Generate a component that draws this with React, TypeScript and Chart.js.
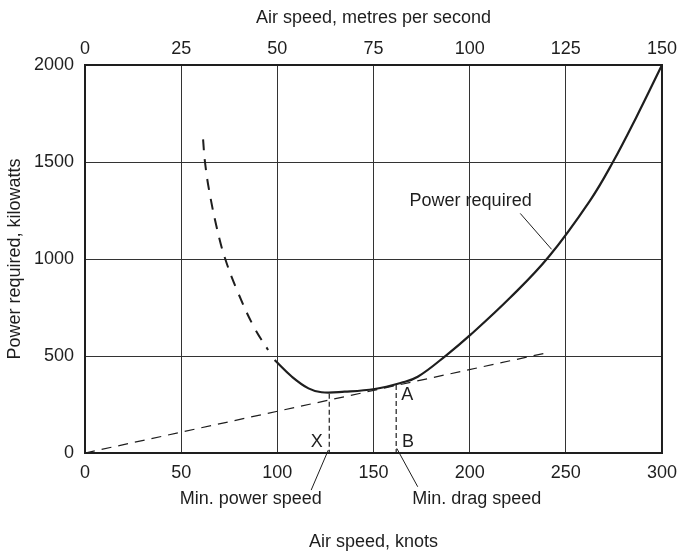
import React, { useEffect, useRef } from "react";
import { Chart, registerables } from "chart.js";

Chart.register(...registerables);

// Power required curve (solid part), air speed in knots vs kilowatts
const powerKnots = [98.6, 107.6, 116.2, 123, 135, 150.6, 164.4, 173, 188, 200.5, 221, 241, 262.5, 274.5, 286.6, 300];
const powerKw = [479, 393, 333, 313, 316, 330, 362, 393, 505, 610, 800, 1010, 1300, 1500, 1730, 2000];

// Power required curve (dashed, low-speed part)
const lowSpeedKnots = [61.4, 62.3, 64.5, 68.8, 72.8, 79, 87.8, 95.2];
const lowSpeedKw = [1617, 1507, 1356, 1149, 1004, 840, 650, 531];

// Tangent from origin
const tangentKnots = [0, 240.4];
const tangentKw = [0, 517];

// Min power speed (X) and min drag speed (B) verticals
const minPowerKnots = [127, 127];
const minPowerKw = [305, 0];
const minDragKnots = [161.8, 161.8];
const minDragKw = [350, 0];

// Leader lines
const powerLeaderKnots = [226.3, 242.6];
const powerLeaderKw = [1235, 1050];
const minPowerLeaderKnots = [126.5, 117.6];
const minPowerLeaderKw = [15, -191];
const minDragLeaderKnots = [162.1, 173];
const minDragLeaderKw = [24, -174];

// Text annotations (data coordinates)
const noteLabels = ["Power required", "A", "B", "X", "Min. power speed", "Min. drag speed"];
const noteKnots = [200.5, 167.5, 168, 120.5, 86.2, 203.7];
const noteKw = [1300, 299, 58, 58, -237, -237];

// Axes
const knotsMin = 0;
const knotsMax = 300;
const knotsStep = 50;
const msMin = 0;
const msMax = 150;
const msStep = 25;
const kwMin = 0;
const kwMax = 2000;
const kwStep = 500;

const FONT = "'Liberation Sans', Arial, Helvetica, sans-serif";
const INK = "#1e1e1e";

const pts = (xs: number[], ys: number[]) => xs.map((x, i) => ({ x, y: ys[i] }));

export default function App() {
  const ref = useRef<HTMLCanvasElement | null>(null);

  useEffect(() => {
    document.body.style.margin = "0";
    const canvas = ref.current;
    if (!canvas) return;

    const framePlugin = {
      id: "frame",
      beforeDatasetsDraw(chart: any) {
        const { ctx, chartArea } = chart;
        ctx.save();
        ctx.strokeStyle = INK;
        ctx.lineWidth = 2;
        ctx.strokeRect(chartArea.left, chartArea.top, chartArea.right - chartArea.left, chartArea.bottom - chartArea.top);
        ctx.restore();
      },
    };

    const notesPlugin = {
      id: "notes",
      afterDatasetsDraw(chart: any) {
        const { ctx } = chart;
        const xs = chart.scales.x;
        const ys = chart.scales.y;
        ctx.save();
        ctx.fillStyle = INK;
        ctx.font = `18px ${FONT}`;
        ctx.textAlign = "center";
        ctx.textBaseline = "middle";
        noteLabels.forEach((t, i) => {
          ctx.fillText(t, xs.getPixelForValue(noteKnots[i]), ys.getPixelForValue(noteKw[i]));
        });
        ctx.restore();
      },
    };

    const lineDs = (data: any, width: number, dash: number[] = [], tension = 0) => ({
      data,
      borderColor: INK,
      borderWidth: width,
      borderDash: dash,
      pointRadius: 0,
      fill: false,
      clip: false as any,
      cubicInterpolationMode: "default",
      tension,
    });

    const plain = (v: any) => String(v);

    const chart = new Chart(canvas, {
      type: "line",
      data: {
        datasets: [
          lineDs(pts(powerKnots, powerKw), 2.2, [], 0.4),
          lineDs(pts(lowSpeedKnots, lowSpeedKw), 2, [11, 9], 0.4),
          lineDs(pts(tangentKnots, tangentKw), 1.2, [10, 7]),
          lineDs(pts(minPowerKnots, minPowerKw), 1.2, [5, 3]),
          lineDs(pts(minDragKnots, minDragKw), 1.2, [5, 3]),
          lineDs(pts(powerLeaderKnots, powerLeaderKw), 1),
          lineDs(pts(minPowerLeaderKnots, minPowerLeaderKw), 1),
          lineDs(pts(minDragLeaderKnots, minDragLeaderKw), 1),
        ] as any,
      },
      options: {
        animation: false,
        responsive: false,
        devicePixelRatio: 1,
        layout: { padding: { left: 0, right: 20, top: 0, bottom: 0 } },
        plugins: { legend: { display: false }, tooltip: { enabled: false } },
        scales: {
          x: {
            type: "linear",
            position: "bottom",
            min: knotsMin,
            max: knotsMax,
            ticks: { stepSize: knotsStep, color: INK, font: { family: FONT, size: 18 }, padding: 9, maxRotation: 0, callback: plain },
            grid: { color: "#333", lineWidth: 1, drawTicks: false },
            border: { display: false },
            title: { display: true, text: "Air speed, knots", color: INK, font: { family: FONT, size: 18 }, padding: { top: 0, bottom: 0 } },
            afterFit: (s: any) => { s.height = 100; },
          },
          x2: {
            type: "linear",
            position: "top",
            min: msMin,
            max: msMax,
            ticks: { stepSize: msStep, color: INK, font: { family: FONT, size: 18 }, padding: 5, maxRotation: 0, callback: plain },
            grid: { display: false, drawTicks: false },
            border: { display: false },
            title: { display: true, text: "Air speed, metres per second", color: INK, font: { family: FONT, size: 18 }, padding: { top: 7, bottom: 0 } },
            afterFit: (s: any) => { s.height = 65; },
          },
          y: {
            type: "linear",
            position: "left",
            min: kwMin,
            max: kwMax,
            ticks: { stepSize: kwStep, color: INK, font: { family: FONT, size: 18 }, padding: 11, callback: plain },
            grid: { color: "#333", lineWidth: 1, drawTicks: false },
            border: { display: false },
            title: { display: true, text: "Power required, kilowatts", color: INK, font: { family: FONT, size: 18 }, padding: { top: 4, bottom: 0 } },
            afterFit: (s: any) => { s.width = 85; },
          },
        },
      } as any,
      plugins: [framePlugin, notesPlugin],
    });

    return () => chart.destroy();
  }, []);

  return (
    <div style={{ width: 686, height: 553 }}>
      <canvas ref={ref} width={686} height={553} style={{ display: "block", width: 686, height: 553 }} />
    </div>
  );
}
